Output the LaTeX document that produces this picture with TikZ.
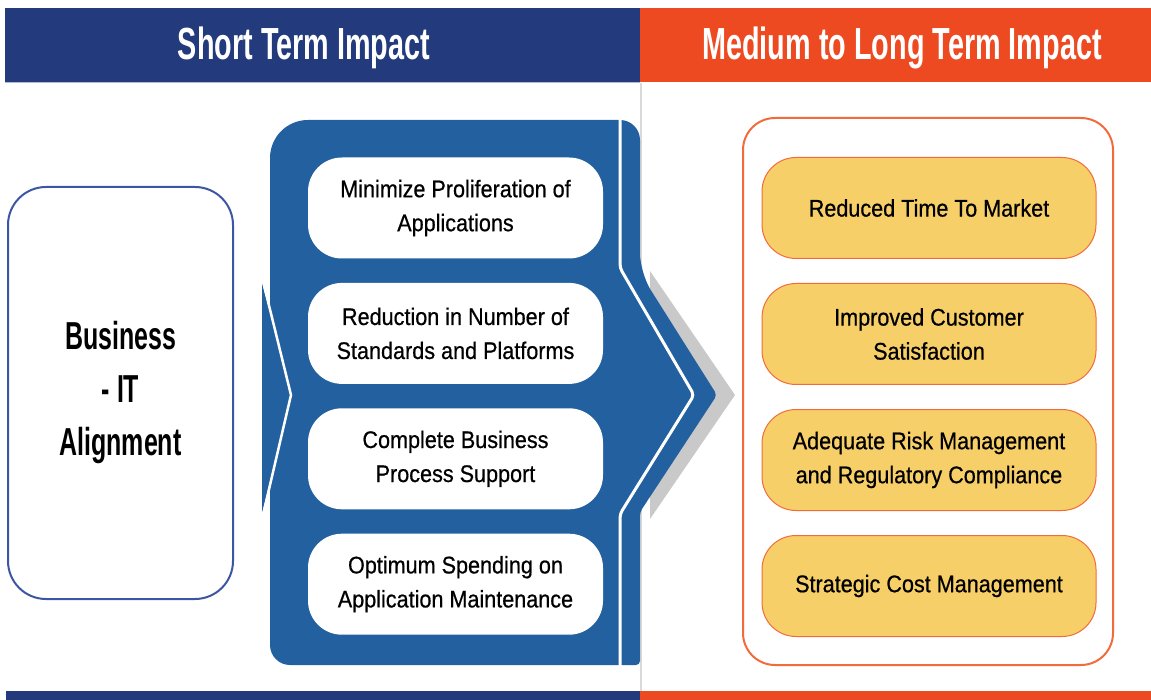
\documentclass[tikz,border=0pt]{standalone}
\usepackage{fontspec}
\setmainfont{Liberation Sans}
\newfontfamily\headfont{Liberation Sans}[FakeStretch=0.64]
\newfontfamily\boxfont{Liberation Sans}[FakeStretch=0.9, FakeBold=0.6]
\usetikzlibrary{positioning}

\definecolor{navy}{HTML}{233A7C}
\definecolor{headorange}{HTML}{EE4A22}
\definecolor{chevblue}{HTML}{22609F}
\definecolor{edgeblue}{HTML}{3C56A4}
\definecolor{boxorange}{HTML}{F26B3A}
\definecolor{goldfill}{HTML}{F7CF68}
\definecolor{shadowgray}{HTML}{C9C9C9}
\definecolor{rulegray}{HTML}{D9D9D9}

\begin{document}
\begin{tikzpicture}[x=1pt, y=-1pt,
    impact/.style={fill=white, rounded corners=34pt, minimum width=295pt, minimum height=101pt,
      align=center, inner sep=0pt, font=\boxfont\fontsize{24}{34}\selectfont},
    outcome/.style={draw=boxorange, line width=1pt, fill=goldfill, rounded corners=34pt,
      minimum width=334pt, minimum height=101pt, align=center, inner sep=0pt,
      font=\boxfont\fontsize{24}{34}\selectfont},
    header/.style={text=white, anchor=base, font=\headfont\bfseries\fontsize{45}{45}\selectfont}]
    \useasboundingbox (0,0) rectangle (1151,700);

    % header and footer bands
    \fill[navy] (5,8) rectangle (640,82);
    \fill[headorange] (640,8) rectangle (1151,82);
    \draw[navy!35, line width=1pt] (5,82.5) -- (640,82.5);
    \fill[navy] (6,691) rectangle (640,700);
    \fill[headorange] (640,691) rectangle (1151,700);
    \draw[rulegray, line width=2.5pt] (641,83) -- (641,691);

    \node[header] (short) at (304,60) {Short Term Impact};
    \node[header] (longterm) at (902,60) {Medium to Long Term Impact};

    % left block
    \node[draw=edgeblue, line width=2pt, rounded corners=38pt, minimum width=225pt, minimum height=412pt,
      align=center, font=\headfont\bfseries\fontsize{39}{53}\selectfont] (alignment) at (120.5,393)
      {Business\\- IT\\Alignment};

    % big chevron with its shadow
    \fill[shadowgray] (650,271) -- (735,395) -- (650,519) -- cycle;
    \fill[chevblue] (455,120) [rounded corners=20pt] -- (640,120) -- (640,273)
      [rounded corners=4pt] -- (717,395) -- (640,512) -- (640,665)
      [rounded corners=20pt] -- (270,665)
      [rounded corners=38pt] -- (270,120) -- cycle;
    \fill[chevblue] (262,283) -- (292,395) -- (262,513) -- cycle;
    \draw[white, line width=2.5pt] (263,281) -- (291,395) -- (263,515);
    \draw[white, line width=3pt, rounded corners=4pt] (620,118) -- (620,268) -- (694,395) -- (620,514) -- (620,667);

    \node[impact] (minimize) at (455.5,208) {Minimize Proliferation of\\Applications};
    \node[impact, below=24pt of minimize] (reduction) {Reduction in Number of\\Standards and Platforms};
    \node[impact, below=24pt of reduction] (process) {Complete Business\\Process Support};
    \node[impact, below=24pt of process] (spending) {Optimum Spending on\\Application Maintenance};

    % right block
    \node[draw=boxorange, line width=2pt, rounded corners=32pt, minimum width=370pt, minimum height=547pt]
      (outcomes) at (928,391.5) {};
    \node[outcome] (market) at (929,208) {Reduced Time To Market};
    \node[outcome, below=24pt of market] (customer) {Improved Customer\\Satisfaction};
    \node[outcome, below=24pt of customer] (risk) {Adequate Risk Management\\and Regulatory Compliance};
    \node[outcome, below=24pt of risk] (cost) {Strategic Cost Management};
\end{tikzpicture}
\end{document}
